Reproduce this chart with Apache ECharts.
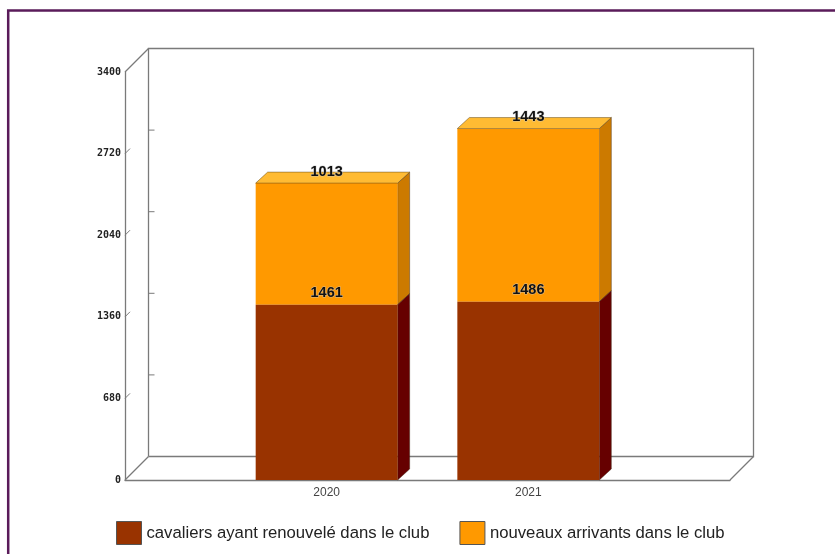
<!DOCTYPE html>
<html>
<head>
<meta charset="utf-8">
<script src="https://cdn.jsdelivr.net/npm/echarts@6/dist/echarts.min.js"></script>
<style>
html,body{margin:0;padding:0;background:#fff;}
#c{width:835px;height:554px;}
</style>
</head>
<body>
<div id="c"></div>
<script>
const years = ['2020', '2021'];
const renewed = [1461, 1486];
const newcomers = [1013, 1443];
const yTicks = [0, 680, 1360, 2040, 2720, 3400];
const seriesNames = ['cavaliers ayant renouvelé dans le club', 'nouveaux arrivants dans le club'];

const chart = echarts.init(document.getElementById('c'));

const D = [23.5, -23.5];   // wall depth
const B = [12, -11];       // bar depth
const LINE = '#7a7a7a';

function wallRender(params, api) {
  const v = api.value(0);
  const f = api.coord([0, v]);
  const children = [];
  const isEnd = (v === yTicks[0] || v === yTicks[yTicks.length - 1]);
  if (isEnd) {
    children.push({type: 'line', shape: {x1: f[0], y1: f[1], x2: f[0] + D[0], y2: f[1] + D[1]},
      style: {stroke: LINE, lineWidth: 1.3}});
  } else {
    children.push({type: 'line', shape: {x1: f[0], y1: f[1], x2: f[0] + 5, y2: f[1] - 5},
      style: {stroke: LINE, lineWidth: 1}});
    children.push({type: 'line', shape: {x1: f[0] + D[0], y1: f[1] + D[1], x2: f[0] + D[0] + 6, y2: f[1] + D[1]},
      style: {stroke: LINE, lineWidth: 1}});
  }
  if (params.dataIndex === 0) {
    const bl = api.coord([0, yTicks[0]]);
    const tl = api.coord([0, yTicks[yTicks.length - 1]]);
    const br = api.coord([years.length + 1, yTicks[0]]);
    const tr = api.coord([years.length + 1, yTicks[yTicks.length - 1]]);
    children.push({type: 'polyline', shape: {points: [
      [bl[0] + D[0], bl[1] + D[1]], [tl[0] + D[0], tl[1] + D[1]],
      [tr[0] + D[0], tr[1] + D[1]], [br[0] + D[0], br[1] + D[1]],
      [bl[0] + D[0], bl[1] + D[1]]
    ]}, style: {stroke: LINE, lineWidth: 1.3, fill: null}});
    children.push({type: 'line', shape: {x1: br[0], y1: br[1], x2: br[0] + D[0], y2: br[1] + D[1]},
      style: {stroke: LINE, lineWidth: 1.3}});
  }
  return {type: 'group', children: children};
}

function makeBarSeries(name, values, bases, colors, showTop, z) {
  return {
    type: 'custom',
    name: name,
    z: z,
    itemStyle: {color: colors.front},
    data: values.map((v, i) => [i + 1, bases[i], v]),
    renderItem: function (params, api) {
      const x = api.value(0), base = api.value(1), val = api.value(2);
      const top = api.coord([x, base + val]);
      const bot = api.coord([x, base]);
      const hw = api.size([1, 0])[0] * 0.352;
      const x0 = top[0] - hw, x1 = top[0] + hw, yT = top[1], yB = bot[1];
      const children = [
        {type: 'polygon', shape: {points: [[x1, yT], [x1 + B[0], yT + B[1]], [x1 + B[0], yB + B[1]], [x1, yB]]},
          style: {fill: colors.side, stroke: 'rgba(60,40,20,0.55)', lineWidth: 0.8}},
        {type: 'rect', shape: {x: x0, y: yT, width: x1 - x0, height: yB - yT},
          style: {fill: colors.front}}
      ];
      if (showTop) {
        children.push({type: 'polygon', shape: {points: [[x0, yT], [x0 + B[0], yT + B[1]], [x1 + B[0], yT + B[1]], [x1, yT]]},
          style: {fill: colors.top, stroke: 'rgba(90,70,30,0.6)', lineWidth: 0.8}});
      }
      children.push({type: 'text', z2: 10, style: {
        text: String(val), x: top[0], y: yT - 11.5, align: 'center', verticalAlign: 'middle',
        fill: '#111', font: 'bold 14.5px "Liberation Sans", Arial, sans-serif',
        stroke: 'rgba(200,200,200,0.7)', lineWidth: 1
      }});
      return {type: 'group', children: children};
    }
  };
}

const option = {
  animation: false,
  backgroundColor: '#fff',
  grid: {left: 125, right: 105, top: 72, bottom: 74, containLabel: false},
  xAxis: {
    type: 'value', min: 0, max: years.length + 1, interval: 1,
    axisLine: {show: true, lineStyle: {color: LINE, width: 1.3}},
    axisTick: {show: false},
    splitLine: {show: false},
    axisLabel: {
      margin: 7, color: '#444', fontSize: 12, fontFamily: '"Liberation Sans", Arial, sans-serif',
      formatter: v => years[v - 1] || ''
    }
  },
  yAxis: {
    type: 'value', min: 0, max: 3400, interval: 680,
    axisLine: {show: true, lineStyle: {color: LINE, width: 1.3}},
    axisTick: {show: false},
    splitLine: {show: false},
    axisLabel: {
      margin: 4, color: '#222', fontSize: 10, fontWeight: 'bold',
      fontFamily: '"DejaVu Sans Mono", monospace',
      formatter: v => String(v)
    }
  },
  legend: {
    left: 116, top: 521, padding: 0,
    itemWidth: 25, itemHeight: 23, itemGap: 30,
    textStyle: {fontSize: 16.7, color: '#222', fontFamily: '"Liberation Sans", Arial, sans-serif'},
    data: [
      {name: seriesNames[0], icon: 'rect', itemStyle: {color: '#993300', borderColor: '#555', borderWidth: 1}},
      {name: seriesNames[1], icon: 'rect', itemStyle: {color: '#FF9900', borderColor: '#555', borderWidth: 1}}
    ]
  },
  graphic: [{
    type: 'rect', silent: true, z: 100,
    shape: {x: 8.2, y: 10.5, width: 900, height: 700},
    style: {fill: null, stroke: '#5a1b5a', lineWidth: 2.5}
  }],
  series: [
    {
      type: 'custom', name: 'walls', z: 1, silent: true,
      data: yTicks.map(v => [v]),
      encode: {y: 0},
      renderItem: wallRender
    },
    makeBarSeries(seriesNames[0], renewed, renewed.map(() => 0),
      {front: '#993300', side: '#660000', top: '#B84D1A'}, false, 4),
    makeBarSeries(seriesNames[1], newcomers, renewed,
      {front: '#FF9900', side: '#CC7A00', top: '#FFBB33'}, true, 3)
  ]
};
chart.setOption(option);
</script>
</body>
</html>
